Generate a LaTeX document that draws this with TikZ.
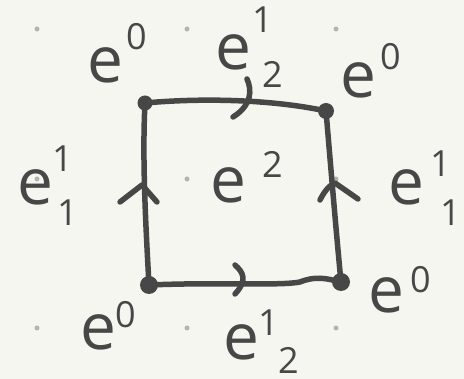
\documentclass[tikz,border=0pt]{standalone}
\usepackage{fontspec}
\setsansfont{Open Sans}
\usetikzlibrary{positioning}
\definecolor{ink}{HTML}{474747}
\definecolor{paper}{HTML}{F6F6F0}
\definecolor{griddot}{HTML}{B4B4B0}

\begin{document}
\begin{tikzpicture}[x=1pt, y=-1pt, line cap=round, line join=round,
  vtx/.style={circle, fill=ink, minimum size=15pt, inner sep=0pt},
  edge/.style={draw=ink, line width=5.5pt},
  tick/.style={draw=ink, line width=5.5pt},
  lbl/.style={text=ink, inner sep=0pt, anchor=base west,
              font=\sffamily\fontsize{64}{64}\selectfont},
  scr/.style={text=ink, inner sep=0pt, anchor=base west,
              font=\sffamily\fontsize{36}{36}\selectfont}
]
% ---- paper and grid -----------------------------------------------------
\fill[paper] (0,0) rectangle (464,379);
\useasboundingbox (0,0) rectangle (464,379);
\foreach \gx in {37,187,336} \foreach \gy in {29,179,328}
  \fill[griddot] (\gx,\gy) circle (2.5);

% ---- 0-cells ------------------------------------------------------------
\node[vtx] (tl) at (145,103) {};
\node[vtx, minimum size=16pt] (tr) at (326,111) {};
\node[vtx, minimum size=18pt] (bl) at (149,285) {};
\node[vtx, minimum size=18pt] (br) at (341,282) {};

% ---- 1-cells ------------------------------------------------------------
\draw[edge] (tl.center) .. controls (200,98) and (270,99) .. (tr.center);
\draw[edge] (tl.center) .. controls (142,160) and (146,230) .. (bl.center);
\draw[edge] (tr.center) .. controls (331,170) and (336,230) .. (br.center);
\draw[edge] (bl.center) .. controls (220,282) and (280,286) .. (300,282)
                        .. controls (315,276) and (325,278) .. (br.center);

% orientation marks
\draw[tick] (247,79) .. controls (252,90) and (252,105) .. (233,117);
\draw[tick] (235,265) .. controls (243,272) and (248,280) .. (235,294);
\draw[tick] (120,202) -- (142,185) -- (157,202);
\draw[tick] (320,200) .. controls (325,190) and (330,185) .. (335,183) -- (358,199);

% ---- labels: e with its indices -----------------------------------------
% vertices e^0
\node[lbl] (ltl) at (87,83)   {e};   \node[scr] (ltl0) at (126,50)  {0};
\node[lbl] (ltr) at (340,98)  {e};   \node[scr] (ltr0) at (380,70)  {0};
\node[lbl] (lbl) at (80,350)  {e};   \node[scr] (lbl0) at (115,328) {0};
\node[lbl] (lbr) at (368,313) {e};   \node[scr] (lbr0) at (410,293) {0};
% horizontal edges e^1_2
\node[lbl] (ltop) at (215,70)  {e};
\node[scr] (ltop1) at (252,33) {1};  \node[scr] (ltop2) at (262,88) {2};
\node[lbl] (lbot) at (223,360) {e};
\node[scr] (lbot1) at (258,336) {1}; \node[scr] (lbot2) at (278,374) {2};
% vertical edges e^1_1
\node[lbl] (llft) at (17,205)  {e};
\node[scr] (llft1) at (52,172) {1};  \node[scr] (llft2) at (57,226) {1};
\node[lbl] (lrgt) at (388,205) {e};
\node[scr] (lrgt1) at (430,177) {1}; \node[scr] (lrgt2) at (440,226) {1};
% face e^2
\node[lbl] (lface) at (210,203) {e}; \node[scr] (lface2) at (262,178) {2};
\end{tikzpicture}
\end{document}
